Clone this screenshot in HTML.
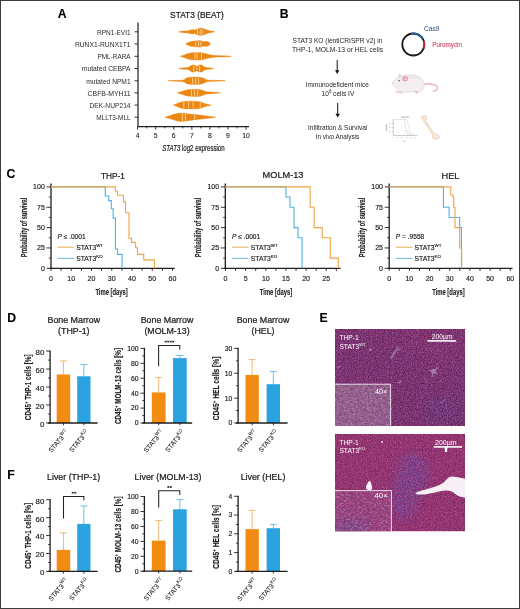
<!DOCTYPE html>
<html><head><meta charset="utf-8"><style>
html,body{margin:0;padding:0;background:#fff;} body{position:relative;width:520px;height:609px;overflow:hidden;}
svg{display:block;filter:blur(0.3px);font-family:"Liberation Sans", sans-serif;}
</style></head><body>
<svg width="520" height="609" viewBox="0 0 520 609" font-family="Liberation Sans, sans-serif">
<rect x="0" y="0" width="520" height="609" fill="#fff"/>
<text x="57.70" y="17.80" font-size="12.2" fill="#000" text-anchor="start" font-weight="bold" stroke="#000" stroke-width="0.12">A</text>
<text x="197.00" y="18.10" font-size="9" fill="#1c1c1c" text-anchor="middle" textLength="53.8" lengthAdjust="spacingAndGlyphs" stroke="#1c1c1c" stroke-width="0.24">STAT3 (BEAT)</text>
<text x="97.10" y="34.50" font-size="7.6" fill="#2a2a2a" text-anchor="start" textLength="33.5" lengthAdjust="spacingAndGlyphs" stroke="none">RPN1-EVI1</text>
<line x1="134.50" y1="31.80" x2="138.00" y2="31.80" stroke="#1e1e1e" stroke-width="0.9"/>
<text x="74.90" y="46.60" font-size="7.6" fill="#2a2a2a" text-anchor="start" textLength="55.7" lengthAdjust="spacingAndGlyphs" stroke="none">RUNX1-RUNX1T1</text>
<line x1="134.50" y1="43.90" x2="138.00" y2="43.90" stroke="#1e1e1e" stroke-width="0.9"/>
<text x="97.50" y="59.00" font-size="7.6" fill="#2a2a2a" text-anchor="start" textLength="33.1" lengthAdjust="spacingAndGlyphs" stroke="none">PML-RARA</text>
<line x1="134.50" y1="56.30" x2="138.00" y2="56.30" stroke="#1e1e1e" stroke-width="0.9"/>
<text x="81.80" y="71.20" font-size="7.6" fill="#2a2a2a" text-anchor="start" textLength="48.8" lengthAdjust="spacingAndGlyphs" stroke="none">mutated CEBPA</text>
<line x1="134.50" y1="68.50" x2="138.00" y2="68.50" stroke="#1e1e1e" stroke-width="0.9"/>
<text x="86.30" y="83.50" font-size="7.6" fill="#2a2a2a" text-anchor="start" textLength="44.3" lengthAdjust="spacingAndGlyphs" stroke="none">mutated NPM1</text>
<line x1="134.50" y1="80.80" x2="138.00" y2="80.80" stroke="#1e1e1e" stroke-width="0.9"/>
<text x="87.60" y="95.60" font-size="7.6" fill="#2a2a2a" text-anchor="start" textLength="43" lengthAdjust="spacingAndGlyphs" stroke="none">CBFB-MYH11</text>
<line x1="134.50" y1="92.90" x2="138.00" y2="92.90" stroke="#1e1e1e" stroke-width="0.9"/>
<text x="89.40" y="107.80" font-size="7.6" fill="#2a2a2a" text-anchor="start" textLength="41.2" lengthAdjust="spacingAndGlyphs" stroke="none">DEK-NUP214</text>
<line x1="134.50" y1="105.10" x2="138.00" y2="105.10" stroke="#1e1e1e" stroke-width="0.9"/>
<text x="96.20" y="119.90" font-size="7.6" fill="#2a2a2a" text-anchor="start" textLength="34.4" lengthAdjust="spacingAndGlyphs" stroke="none">MLLT3-MLL</text>
<line x1="134.50" y1="117.20" x2="138.00" y2="117.20" stroke="#1e1e1e" stroke-width="0.9"/>
<line x1="138.00" y1="22.50" x2="138.00" y2="127.00" stroke="#1e1e1e" stroke-width="1.2"/>
<line x1="137.40" y1="126.60" x2="249.00" y2="126.60" stroke="#1e1e1e" stroke-width="1.2"/>
<line x1="137.60" y1="126.60" x2="137.60" y2="129.60" stroke="#1e1e1e" stroke-width="0.9"/>
<line x1="146.64" y1="126.60" x2="146.64" y2="128.40" stroke="#1e1e1e" stroke-width="0.9"/>
<line x1="155.68" y1="126.60" x2="155.68" y2="129.60" stroke="#1e1e1e" stroke-width="0.9"/>
<line x1="164.72" y1="126.60" x2="164.72" y2="128.40" stroke="#1e1e1e" stroke-width="0.9"/>
<line x1="173.76" y1="126.60" x2="173.76" y2="129.60" stroke="#1e1e1e" stroke-width="0.9"/>
<line x1="182.80" y1="126.60" x2="182.80" y2="128.40" stroke="#1e1e1e" stroke-width="0.9"/>
<line x1="191.84" y1="126.60" x2="191.84" y2="129.60" stroke="#1e1e1e" stroke-width="0.9"/>
<line x1="200.88" y1="126.60" x2="200.88" y2="128.40" stroke="#1e1e1e" stroke-width="0.9"/>
<line x1="209.92" y1="126.60" x2="209.92" y2="129.60" stroke="#1e1e1e" stroke-width="0.9"/>
<line x1="218.96" y1="126.60" x2="218.96" y2="128.40" stroke="#1e1e1e" stroke-width="0.9"/>
<line x1="228.00" y1="126.60" x2="228.00" y2="129.60" stroke="#1e1e1e" stroke-width="0.9"/>
<line x1="237.04" y1="126.60" x2="237.04" y2="128.40" stroke="#1e1e1e" stroke-width="0.9"/>
<line x1="246.08" y1="126.60" x2="246.08" y2="129.60" stroke="#1e1e1e" stroke-width="0.9"/>
<text x="137.60" y="138.20" font-size="6.8" fill="#1c1c1c" text-anchor="middle" stroke="#1c1c1c" stroke-width="0.1">4</text>
<text x="155.68" y="138.20" font-size="6.8" fill="#1c1c1c" text-anchor="middle" stroke="#1c1c1c" stroke-width="0.1">5</text>
<text x="173.76" y="138.20" font-size="6.8" fill="#1c1c1c" text-anchor="middle" stroke="#1c1c1c" stroke-width="0.1">6</text>
<text x="191.84" y="138.20" font-size="6.8" fill="#1c1c1c" text-anchor="middle" stroke="#1c1c1c" stroke-width="0.1">7</text>
<text x="209.92" y="138.20" font-size="6.8" fill="#1c1c1c" text-anchor="middle" stroke="#1c1c1c" stroke-width="0.1">8</text>
<text x="228.00" y="138.20" font-size="6.8" fill="#1c1c1c" text-anchor="middle" stroke="#1c1c1c" stroke-width="0.1">9</text>
<text x="246.08" y="138.20" font-size="6.8" fill="#1c1c1c" text-anchor="middle" stroke="#1c1c1c" stroke-width="0.1">10</text>
<text x="162.3" y="151.2" font-size="8.2" fill="#1c1c1c" stroke="#1c1c1c" stroke-width="0.2" textLength="62.3" lengthAdjust="spacingAndGlyphs"><tspan font-style="italic">STAT3</tspan> log2 expression</text>
<polygon points="179.20,31.40 183.00,30.90 188.00,30.70 190.50,29.90 192.30,29.50 194.50,30.00 196.00,29.40 198.50,28.50 201.00,28.10 203.50,28.50 206.00,29.60 209.00,30.60 213.00,31.30 214.50,31.60 214.50,32.00 213.00,32.30 209.00,33.00 206.00,34.00 203.50,35.10 201.00,35.50 198.50,35.10 196.00,34.20 194.50,33.60 192.30,34.10 190.50,33.70 188.00,32.90 183.00,32.70 179.20,32.20" fill="#eb8713" stroke="#eb8713" stroke-width="0.3" stroke-linejoin="round"/>
<line x1="197.50" y1="29.36" x2="197.50" y2="34.24" stroke="#fdd49a" stroke-width="0.9"/>
<line x1="200.20" y1="28.73" x2="200.20" y2="34.87" stroke="#fdd49a" stroke-width="0.9"/>
<line x1="202.20" y1="28.79" x2="202.20" y2="34.81" stroke="#fdd49a" stroke-width="0.9"/>
<polygon points="186.00,43.50 188.00,42.50 191.00,41.50 194.00,41.00 197.00,40.80 200.00,40.60 202.00,41.10 203.80,41.80 205.50,41.30 207.50,41.50 209.00,42.30 210.30,43.50 210.30,44.30 209.00,45.50 207.50,46.30 205.50,46.50 203.80,46.00 202.00,46.70 200.00,47.20 197.00,47.00 194.00,46.80 191.00,46.30 188.00,45.30 186.00,44.30" fill="#eb8713" stroke="#eb8713" stroke-width="0.3" stroke-linejoin="round"/>
<line x1="195.70" y1="41.39" x2="195.70" y2="46.41" stroke="#fdd49a" stroke-width="0.9"/>
<line x1="198.50" y1="41.20" x2="198.50" y2="46.60" stroke="#fdd49a" stroke-width="0.9"/>
<line x1="200.80" y1="41.30" x2="200.80" y2="46.50" stroke="#fdd49a" stroke-width="0.9"/>
<polygon points="180.60,56.00 184.00,55.00 187.00,53.80 190.00,53.10 194.00,52.60 199.00,52.50 202.00,52.70 205.00,53.50 209.00,54.50 213.00,55.20 217.00,55.50 224.00,55.70 231.00,56.10 231.00,56.50 224.00,56.90 217.00,57.10 213.00,57.40 209.00,58.10 205.00,59.10 202.00,59.90 199.00,60.10 194.00,60.00 190.00,59.50 187.00,58.80 184.00,57.60 180.60,56.60" fill="#eb8713" stroke="#eb8713" stroke-width="0.3" stroke-linejoin="round"/>
<line x1="195.00" y1="53.08" x2="195.00" y2="59.52" stroke="#fdd49a" stroke-width="0.9"/>
<line x1="197.20" y1="53.04" x2="197.20" y2="59.56" stroke="#fdd49a" stroke-width="0.9"/>
<line x1="201.50" y1="53.17" x2="201.50" y2="59.43" stroke="#fdd49a" stroke-width="0.9"/>
<polygon points="179.00,68.20 183.00,67.80 187.00,67.50 189.00,67.00 190.50,65.80 192.00,65.00 193.80,64.80 195.50,65.40 196.90,66.30 198.30,65.40 200.00,64.80 201.80,65.00 203.30,65.90 204.80,67.00 207.00,67.50 210.00,67.80 213.30,68.30 213.30,68.70 210.00,69.20 207.00,69.50 204.80,70.00 203.30,71.10 201.80,72.00 200.00,72.20 198.30,71.60 196.90,70.70 195.50,71.60 193.80,72.20 192.00,72.00 190.50,71.20 189.00,70.00 187.00,69.50 183.00,69.20 179.00,68.80" fill="#eb8713" stroke="#eb8713" stroke-width="0.3" stroke-linejoin="round"/>
<line x1="193.80" y1="65.30" x2="193.80" y2="71.70" stroke="#fdd49a" stroke-width="0.9"/>
<line x1="196.90" y1="66.80" x2="196.90" y2="70.20" stroke="#fdd49a" stroke-width="0.9"/>
<line x1="199.60" y1="65.44" x2="199.60" y2="71.56" stroke="#fdd49a" stroke-width="0.9"/>
<polygon points="168.30,80.50 175.00,80.30 182.00,80.20 184.50,79.40 186.20,78.10 188.50,77.40 192.00,77.10 198.00,77.10 202.00,77.50 204.50,78.60 206.50,79.80 210.00,80.20 218.00,80.30 225.00,80.60 225.00,81.00 218.00,81.30 210.00,81.40 206.50,81.80 204.50,83.00 202.00,84.10 198.00,84.50 192.00,84.50 188.50,84.20 186.20,83.50 184.50,82.20 182.00,81.40 175.00,81.30 168.30,81.10" fill="#eb8713" stroke="#eb8713" stroke-width="0.3" stroke-linejoin="round"/>
<line x1="192.60" y1="77.60" x2="192.60" y2="84.00" stroke="#fdd49a" stroke-width="0.9"/>
<line x1="195.70" y1="77.60" x2="195.70" y2="84.00" stroke="#fdd49a" stroke-width="0.9"/>
<line x1="198.50" y1="77.65" x2="198.50" y2="83.95" stroke="#fdd49a" stroke-width="0.9"/>
<polygon points="177.50,92.60 180.00,92.00 183.00,91.00 186.00,90.10 189.00,89.60 194.00,89.20 199.00,89.30 202.00,90.10 205.00,91.20 208.00,91.80 212.00,92.00 216.00,92.20 220.50,92.70 220.50,93.10 216.00,93.60 212.00,93.80 208.00,94.00 205.00,94.60 202.00,95.70 199.00,96.50 194.00,96.60 189.00,96.20 186.00,95.70 183.00,94.80 180.00,93.80 177.50,93.20" fill="#eb8713" stroke="#eb8713" stroke-width="0.3" stroke-linejoin="round"/>
<line x1="191.50" y1="89.90" x2="191.50" y2="95.90" stroke="#fdd49a" stroke-width="0.9"/>
<line x1="194.60" y1="89.71" x2="194.60" y2="96.09" stroke="#fdd49a" stroke-width="0.9"/>
<line x1="197.70" y1="89.77" x2="197.70" y2="96.03" stroke="#fdd49a" stroke-width="0.9"/>
<polygon points="173.60,104.80 176.00,104.10 179.00,102.70 182.00,101.70 186.00,101.30 192.00,101.20 198.00,101.40 201.00,102.00 204.00,103.20 207.00,104.10 209.00,104.50 211.00,104.90 211.00,105.30 209.00,105.70 207.00,106.10 204.00,107.00 201.00,108.20 198.00,108.80 192.00,109.00 186.00,108.90 182.00,108.50 179.00,107.50 176.00,106.10 173.60,105.40" fill="#eb8713" stroke="#eb8713" stroke-width="0.3" stroke-linejoin="round"/>
<line x1="183.80" y1="102.02" x2="183.80" y2="108.18" stroke="#fdd49a" stroke-width="0.9"/>
<line x1="188.60" y1="101.76" x2="188.60" y2="108.44" stroke="#fdd49a" stroke-width="0.9"/>
<line x1="193.20" y1="101.74" x2="193.20" y2="108.46" stroke="#fdd49a" stroke-width="0.9"/>
<line x1="200.20" y1="102.34" x2="200.20" y2="107.86" stroke="#fdd49a" stroke-width="0.9"/>
<polygon points="165.20,116.90 168.00,116.20 171.00,115.30 174.00,114.30 177.00,113.40 180.00,112.90 184.00,113.20 190.00,113.90 196.00,114.60 202.00,115.30 207.00,116.00 211.00,116.50 215.50,117.00 215.50,117.40 211.00,117.90 207.00,118.40 202.00,119.10 196.00,119.80 190.00,120.50 184.00,121.20 180.00,121.50 177.00,121.00 174.00,120.10 171.00,119.10 168.00,118.20 165.20,117.50" fill="#eb8713" stroke="#eb8713" stroke-width="0.3" stroke-linejoin="round"/>
<line x1="182.30" y1="113.57" x2="182.30" y2="120.83" stroke="#fdd49a" stroke-width="0.9"/>
<line x1="185.40" y1="113.86" x2="185.40" y2="120.54" stroke="#fdd49a" stroke-width="0.9"/>
<line x1="194.60" y1="114.94" x2="194.60" y2="119.46" stroke="#fdd49a" stroke-width="0.9"/>
<text x="279.70" y="18.00" font-size="12.2" fill="#000" text-anchor="start" font-weight="bold" stroke="#000" stroke-width="0.12">B</text>
<text x="337.50" y="42.90" font-size="7.1" fill="#262626" text-anchor="middle" textLength="90" lengthAdjust="spacingAndGlyphs" stroke="none">STAT3 KO (lentiCRISPR v2) in</text>
<text x="337.50" y="51.90" font-size="7.1" fill="#262626" text-anchor="middle" textLength="91" lengthAdjust="spacingAndGlyphs" stroke="none">THP-1, MOLM-13 or HEL cells</text>
<line x1="337.20" y1="60.00" x2="337.20" y2="71.50" stroke="#111" stroke-width="1"/>
<polygon points="335.00,70.20 339.40,70.20 337.20,74.00" fill="#111"/>
<text x="337.30" y="86.90" font-size="7.1" fill="#262626" text-anchor="middle" textLength="63" lengthAdjust="spacingAndGlyphs" stroke="none">Immunodeficient mice</text>
<text x="321.6" y="95.5" stroke="none" font-size="6.9" textLength="32.7" lengthAdjust="spacingAndGlyphs" fill="#1c1c1c">10<tspan font-size="4.5" dy="-2.6">6</tspan><tspan dy="2.6"> cells IV</tspan></text>
<line x1="337.70" y1="103.00" x2="337.70" y2="115.00" stroke="#111" stroke-width="1"/>
<polygon points="335.50,113.70 339.90,113.70 337.70,117.50" fill="#111"/>
<text x="337.60" y="130.10" font-size="7.1" fill="#262626" text-anchor="middle" textLength="59.2" lengthAdjust="spacingAndGlyphs" stroke="none">Infiltration &amp; Survival</text>
<text x="337.50" y="139.40" font-size="7.1" fill="#262626" text-anchor="middle" textLength="43.4" lengthAdjust="spacingAndGlyphs" stroke="none">In vivo Analysis</text>
<circle cx="413.3" cy="44.5" r="11.0" fill="none" stroke="#1d1d1d" stroke-width="1.8"/>
<path d="M410.83,33.78 A11.0,11.0 0 0 1 422.83,39.00" fill="none" stroke="#24649a" stroke-width="2.0"/>
<path d="M423.76,41.10 A11.0,11.0 0 0 1 423.57,48.44" fill="none" stroke="#cc2448" stroke-width="2.0"/>
<text x="424.00" y="31.00" font-size="7.6" fill="#41668f" text-anchor="start" textLength="15.5" lengthAdjust="spacingAndGlyphs" stroke="#41668f" stroke-width="0.1">Cas9</text>
<text x="432.20" y="46.50" font-size="7.6" fill="#cc3d5c" text-anchor="start" textLength="29.8" lengthAdjust="spacingAndGlyphs" stroke="#cc3d5c" stroke-width="0.1">Puromycin</text>
<g>
<path d="M423.3,84.3 C427,83.6 432,84 435.5,85.2 C437.6,86 438,88 436.8,89.6 C435.8,90.7 434.4,91.2 433,91.2" fill="none" stroke="#dfa3ad" stroke-width="1.15" stroke-linecap="round"/>
<path d="M392.6,83 C393.5,81 395.5,79 397.5,77.5 C398.5,75.5 399.3,74.2 400,74 C400.6,75 401,76 401.5,76.5 C404,75 408,74.5 412,74.8 C418,75 423,78.5 424,83.5 C424.8,88 422.5,91.5 418,92 L403,92 C399.5,92 397,90 395.5,87.5 C394,86 393,84.8 392.6,83 Z" fill="#f3eff1" stroke="#d9cfd4" stroke-width="0.6"/>
<path d="M407,76 C412,75 419,76.5 422,80 C417,78.5 412,78 407,78.5 Z" fill="#e6e4ee" opacity="0.8"/>
<path d="M399.2,77.8 L399.6,73.8 L401.2,76.6 Z" fill="#e4dde1" stroke="#cfc5ca" stroke-width="0.4"/>
<ellipse cx="405.2" cy="78.7" rx="2.9" ry="2.6" fill="#e6a1ae"/>
<ellipse cx="405.6" cy="79" rx="1.6" ry="1.4" fill="#efc3cb"/>
<circle cx="399.1" cy="80.8" r="0.75" fill="#4d4148"/>
<path d="M396,91.8 L398.5,92.6 M399.5,92 L402,93.2" stroke="#e5aab4" stroke-width="1" stroke-linecap="round"/>
<path d="M415.5,91.2 L417.5,93" stroke="#e5aab4" stroke-width="1.2" stroke-linecap="round"/>
<circle cx="392.8" cy="83" r="0.6" fill="#e5aab4"/>
</g>
<g fill="none">
<line x1="393.2" y1="119.2" x2="393.2" y2="135.5" stroke="#a8a8a8" stroke-width="0.6"/>
<line x1="393.2" y1="135.5" x2="417.4" y2="135.5" stroke="#a8a8a8" stroke-width="0.6"/>
<path d="M393.2,119.4 H404.2 L407.1,134 H411" stroke="#c8c8c8" stroke-width="0.5"/>
<path d="M404,119.4 H407 L410.5,134 H414" stroke="#cfcfcf" stroke-width="0.5"/>
<path d="M394,131.5 H410" stroke="#e2e2e2" stroke-width="0.4"/>
<g stroke="#999" stroke-width="0.4">
<line x1="392" y1="123.4" x2="393.2" y2="123.4"/><line x1="392" y1="127.5" x2="393.2" y2="127.5"/><line x1="392" y1="131.5" x2="393.2" y2="131.5"/>
</g>
<rect x="401.3" y="116.5" width="7.7" height="1.3" fill="#c4c4c4"/>
<rect x="385.8" y="124" width="1.2" height="7" fill="#c4c4c4"/>
<g fill="#cdcdcd"><rect x="389" y="123" width="1.6" height="0.9"/><rect x="389" y="127.1" width="1.6" height="0.9"/><rect x="389" y="131.1" width="1.6" height="0.9"/>
<rect x="391.5" y="137.3" width="1" height="0.9"/><rect x="396.3" y="137.3" width="1.6" height="0.9"/><rect x="401.2" y="137.3" width="1.6" height="0.9"/><rect x="406.1" y="137.3" width="1.6" height="0.9"/><rect x="410.7" y="137.3" width="1.6" height="0.9"/><rect x="414.8" y="137.3" width="1.6" height="0.9"/>
<rect x="403" y="140.5" width="2.4" height="1.1"/></g>
</g>
<path d="M421.9,118 C421.6,116.6 422.6,115.7 424.2,115.6 C425.6,115.5 426.8,116 426.6,117.4 C426.4,118.5 425.6,119.6 425.4,120.8 L433.2,132 C434.8,133.4 437.4,134.4 439.2,135.9 C439.9,137.2 438.6,138.6 436.8,139 C435,139.4 433.2,139.4 432.7,138.1 C432.5,136.6 432.9,135.2 432.4,134 L424.3,122 C423.3,120.7 422.2,119.3 421.9,118 Z" fill="#f6ead8" stroke="#dcb992" stroke-width="0.55"/>
<text x="6.60" y="178.40" font-size="12.2" fill="#000" text-anchor="start" font-weight="bold" stroke="#000" stroke-width="0.12">C</text>
<text x="112.90" y="178.80" font-size="9.2" fill="#1c1c1c" text-anchor="middle" textLength="23.8" lengthAdjust="spacingAndGlyphs" stroke="#1c1c1c" stroke-width="0.24">THP-1</text>
<line x1="51.00" y1="183.50" x2="51.00" y2="268.90" stroke="#1e1e1e" stroke-width="1.3"/>
<line x1="49.50" y1="268.30" x2="174.80" y2="268.30" stroke="#1e1e1e" stroke-width="1.3"/>
<line x1="46.50" y1="268.30" x2="51.00" y2="268.30" stroke="#1e1e1e" stroke-width="0.9"/>
<text x="44.80" y="270.80" font-size="7" fill="#1c1c1c" text-anchor="end" stroke="#1c1c1c" stroke-width="0.16">0</text>
<line x1="46.50" y1="247.95" x2="51.00" y2="247.95" stroke="#1e1e1e" stroke-width="0.9"/>
<text x="44.80" y="250.45" font-size="7" fill="#1c1c1c" text-anchor="end" stroke="#1c1c1c" stroke-width="0.16">25</text>
<line x1="46.50" y1="227.60" x2="51.00" y2="227.60" stroke="#1e1e1e" stroke-width="0.9"/>
<text x="44.80" y="230.10" font-size="7" fill="#1c1c1c" text-anchor="end" stroke="#1c1c1c" stroke-width="0.16">50</text>
<line x1="46.50" y1="207.25" x2="51.00" y2="207.25" stroke="#1e1e1e" stroke-width="0.9"/>
<text x="44.80" y="209.75" font-size="7" fill="#1c1c1c" text-anchor="end" stroke="#1c1c1c" stroke-width="0.16">75</text>
<line x1="46.50" y1="186.90" x2="51.00" y2="186.90" stroke="#1e1e1e" stroke-width="0.9"/>
<text x="44.80" y="189.40" font-size="7" fill="#1c1c1c" text-anchor="end" stroke="#1c1c1c" stroke-width="0.16">100</text>
<line x1="48.80" y1="258.12" x2="51.00" y2="258.12" stroke="#1e1e1e" stroke-width="0.8"/>
<line x1="48.80" y1="237.78" x2="51.00" y2="237.78" stroke="#1e1e1e" stroke-width="0.8"/>
<line x1="48.80" y1="217.43" x2="51.00" y2="217.43" stroke="#1e1e1e" stroke-width="0.8"/>
<line x1="48.80" y1="197.07" x2="51.00" y2="197.07" stroke="#1e1e1e" stroke-width="0.8"/>
<line x1="51.00" y1="268.30" x2="51.00" y2="270.90" stroke="#1e1e1e" stroke-width="0.9"/>
<line x1="61.12" y1="268.30" x2="61.12" y2="270.90" stroke="#1e1e1e" stroke-width="0.9"/>
<line x1="71.25" y1="268.30" x2="71.25" y2="270.90" stroke="#1e1e1e" stroke-width="0.9"/>
<line x1="81.38" y1="268.30" x2="81.38" y2="270.90" stroke="#1e1e1e" stroke-width="0.9"/>
<line x1="91.50" y1="268.30" x2="91.50" y2="270.90" stroke="#1e1e1e" stroke-width="0.9"/>
<line x1="101.62" y1="268.30" x2="101.62" y2="270.90" stroke="#1e1e1e" stroke-width="0.9"/>
<line x1="111.75" y1="268.30" x2="111.75" y2="270.90" stroke="#1e1e1e" stroke-width="0.9"/>
<line x1="121.88" y1="268.30" x2="121.88" y2="270.90" stroke="#1e1e1e" stroke-width="0.9"/>
<line x1="132.00" y1="268.30" x2="132.00" y2="270.90" stroke="#1e1e1e" stroke-width="0.9"/>
<line x1="142.12" y1="268.30" x2="142.12" y2="270.90" stroke="#1e1e1e" stroke-width="0.9"/>
<line x1="152.25" y1="268.30" x2="152.25" y2="270.90" stroke="#1e1e1e" stroke-width="0.9"/>
<line x1="162.38" y1="268.30" x2="162.38" y2="270.90" stroke="#1e1e1e" stroke-width="0.9"/>
<line x1="172.50" y1="268.30" x2="172.50" y2="270.90" stroke="#1e1e1e" stroke-width="0.9"/>
<text x="51.00" y="281.20" font-size="7" fill="#1c1c1c" text-anchor="middle" stroke="#1c1c1c" stroke-width="0.16">0</text>
<text x="71.25" y="281.20" font-size="7" fill="#1c1c1c" text-anchor="middle" stroke="#1c1c1c" stroke-width="0.16">10</text>
<text x="91.50" y="281.20" font-size="7" fill="#1c1c1c" text-anchor="middle" stroke="#1c1c1c" stroke-width="0.16">20</text>
<text x="111.75" y="281.20" font-size="7" fill="#1c1c1c" text-anchor="middle" stroke="#1c1c1c" stroke-width="0.16">30</text>
<text x="132.00" y="281.20" font-size="7" fill="#1c1c1c" text-anchor="middle" stroke="#1c1c1c" stroke-width="0.16">40</text>
<text x="152.25" y="281.20" font-size="7" fill="#1c1c1c" text-anchor="middle" stroke="#1c1c1c" stroke-width="0.16">50</text>
<text x="172.50" y="281.20" font-size="7" fill="#1c1c1c" text-anchor="middle" stroke="#1c1c1c" stroke-width="0.16">60</text>
<text x="111.60" y="294.80" font-size="9.0" fill="#222" text-anchor="middle" font-weight="bold" textLength="32.4" lengthAdjust="spacingAndGlyphs" stroke="#222" stroke-width="0.12">Time [days]</text>
<text x="26.90" y="227.40" font-size="8.6" fill="#222" text-anchor="middle" font-weight="bold" textLength="59.5" lengthAdjust="spacingAndGlyphs" transform="rotate(-90 26.90 227.40)" stroke="#222" stroke-width="0.12">Probability of survival</text>
<path d="M51.00,186.90 H105.27 V196.02 H108.71 V200.58 H111.34 V208.72 H113.17 V218.08 H115.39 V249.01 H117.42 V254.38 H122.08 V268.30" fill="none" stroke="#4fb3e3" stroke-width="1.1"/>
<path d="M51.00,186.90 H115.39 V191.21 H117.42 V195.20 H123.49 V201.88 H125.52 V212.70 H128.96 V238.26 H131.59 V242.33 H135.64 V247.71 H137.47 V254.38 H143.75 V259.83 H154.48 V268.30" fill="none" stroke="#f1a443" stroke-width="1.1"/>
<text x="57.40" y="238.8" font-size="6.6" fill="#1c1c1c" stroke="#1c1c1c" stroke-width="0.16"><tspan font-style="italic">P</tspan> ≤ .0001</text>
<line x1="57.40" y1="247.20" x2="73.90" y2="247.20" stroke="#e2ad55" stroke-width="1.0"/>
<line x1="57.40" y1="258.40" x2="73.90" y2="258.40" stroke="#6db6dc" stroke-width="1.0"/>
<text x="76.20" y="249.6" font-size="6.75" fill="#1c1c1c" stroke="#1c1c1c" stroke-width="0.16">STAT3<tspan font-size="4.4" dy="-3.1">WT</tspan></text>
<text x="76.20" y="260.8" font-size="6.75" fill="#1c1c1c" stroke="#1c1c1c" stroke-width="0.16">STAT3<tspan font-size="4.4" dy="-3.1">KO</tspan></text>
<text x="283.00" y="178.30" font-size="9.2" fill="#1c1c1c" text-anchor="middle" stroke="#1c1c1c" stroke-width="0.24">MOLM-13</text>
<line x1="225.30" y1="183.50" x2="225.30" y2="268.90" stroke="#1e1e1e" stroke-width="1.3"/>
<line x1="223.80" y1="268.30" x2="340.50" y2="268.30" stroke="#1e1e1e" stroke-width="1.3"/>
<line x1="220.80" y1="268.30" x2="225.30" y2="268.30" stroke="#1e1e1e" stroke-width="0.9"/>
<text x="219.10" y="270.80" font-size="7" fill="#1c1c1c" text-anchor="end" stroke="#1c1c1c" stroke-width="0.16">0</text>
<line x1="220.80" y1="247.95" x2="225.30" y2="247.95" stroke="#1e1e1e" stroke-width="0.9"/>
<text x="219.10" y="250.45" font-size="7" fill="#1c1c1c" text-anchor="end" stroke="#1c1c1c" stroke-width="0.16">25</text>
<line x1="220.80" y1="227.60" x2="225.30" y2="227.60" stroke="#1e1e1e" stroke-width="0.9"/>
<text x="219.10" y="230.10" font-size="7" fill="#1c1c1c" text-anchor="end" stroke="#1c1c1c" stroke-width="0.16">50</text>
<line x1="220.80" y1="207.25" x2="225.30" y2="207.25" stroke="#1e1e1e" stroke-width="0.9"/>
<text x="219.10" y="209.75" font-size="7" fill="#1c1c1c" text-anchor="end" stroke="#1c1c1c" stroke-width="0.16">75</text>
<line x1="220.80" y1="186.90" x2="225.30" y2="186.90" stroke="#1e1e1e" stroke-width="0.9"/>
<text x="219.10" y="189.40" font-size="7" fill="#1c1c1c" text-anchor="end" stroke="#1c1c1c" stroke-width="0.16">100</text>
<line x1="223.10" y1="258.12" x2="225.30" y2="258.12" stroke="#1e1e1e" stroke-width="0.8"/>
<line x1="223.10" y1="237.78" x2="225.30" y2="237.78" stroke="#1e1e1e" stroke-width="0.8"/>
<line x1="223.10" y1="217.43" x2="225.30" y2="217.43" stroke="#1e1e1e" stroke-width="0.8"/>
<line x1="223.10" y1="197.07" x2="225.30" y2="197.07" stroke="#1e1e1e" stroke-width="0.8"/>
<line x1="225.50" y1="268.30" x2="225.50" y2="270.90" stroke="#1e1e1e" stroke-width="0.9"/>
<line x1="235.57" y1="268.30" x2="235.57" y2="270.90" stroke="#1e1e1e" stroke-width="0.9"/>
<line x1="245.65" y1="268.30" x2="245.65" y2="270.90" stroke="#1e1e1e" stroke-width="0.9"/>
<line x1="255.72" y1="268.30" x2="255.72" y2="270.90" stroke="#1e1e1e" stroke-width="0.9"/>
<line x1="265.80" y1="268.30" x2="265.80" y2="270.90" stroke="#1e1e1e" stroke-width="0.9"/>
<line x1="275.88" y1="268.30" x2="275.88" y2="270.90" stroke="#1e1e1e" stroke-width="0.9"/>
<line x1="285.95" y1="268.30" x2="285.95" y2="270.90" stroke="#1e1e1e" stroke-width="0.9"/>
<line x1="296.02" y1="268.30" x2="296.02" y2="270.90" stroke="#1e1e1e" stroke-width="0.9"/>
<line x1="306.10" y1="268.30" x2="306.10" y2="270.90" stroke="#1e1e1e" stroke-width="0.9"/>
<line x1="316.18" y1="268.30" x2="316.18" y2="270.90" stroke="#1e1e1e" stroke-width="0.9"/>
<line x1="326.25" y1="268.30" x2="326.25" y2="270.90" stroke="#1e1e1e" stroke-width="0.9"/>
<line x1="336.32" y1="268.30" x2="336.32" y2="270.90" stroke="#1e1e1e" stroke-width="0.9"/>
<text x="225.50" y="281.20" font-size="7" fill="#1c1c1c" text-anchor="middle" stroke="#1c1c1c" stroke-width="0.16">0</text>
<text x="245.65" y="281.20" font-size="7" fill="#1c1c1c" text-anchor="middle" stroke="#1c1c1c" stroke-width="0.16">5</text>
<text x="265.80" y="281.20" font-size="7" fill="#1c1c1c" text-anchor="middle" stroke="#1c1c1c" stroke-width="0.16">10</text>
<text x="285.95" y="281.20" font-size="7" fill="#1c1c1c" text-anchor="middle" stroke="#1c1c1c" stroke-width="0.16">15</text>
<text x="306.10" y="281.20" font-size="7" fill="#1c1c1c" text-anchor="middle" stroke="#1c1c1c" stroke-width="0.16">20</text>
<text x="326.25" y="281.20" font-size="7" fill="#1c1c1c" text-anchor="middle" stroke="#1c1c1c" stroke-width="0.16">25</text>
<text x="276.00" y="294.80" font-size="9.0" fill="#222" text-anchor="middle" font-weight="bold" textLength="32.4" lengthAdjust="spacingAndGlyphs" stroke="#222" stroke-width="0.12">Time [days]</text>
<text x="201.10" y="227.40" font-size="8.6" fill="#222" text-anchor="middle" font-weight="bold" textLength="59.5" lengthAdjust="spacingAndGlyphs" transform="rotate(-90 201.10 227.40)" stroke="#222" stroke-width="0.12">Probability of survival</text>
<path d="M225.30,186.90 H285.95 V197.07 H289.98 V207.25 H294.01 V227.60 H298.04 V237.78 H302.07 V268.30" fill="none" stroke="#4fb3e3" stroke-width="1.1"/>
<path d="M225.30,186.90 H310.13 V207.25 H314.16 V227.60 H322.22 V237.78 H330.28 V258.12 H338.34 V268.30" fill="none" stroke="#f1a443" stroke-width="1.1"/>
<text x="232.00" y="238.8" font-size="6.6" fill="#1c1c1c" stroke="#1c1c1c" stroke-width="0.16"><tspan font-style="italic">P</tspan> ≤ .0001</text>
<line x1="232.00" y1="247.20" x2="248.50" y2="247.20" stroke="#e2ad55" stroke-width="1.0"/>
<line x1="232.00" y1="258.40" x2="248.50" y2="258.40" stroke="#6db6dc" stroke-width="1.0"/>
<text x="250.80" y="249.6" font-size="6.75" fill="#1c1c1c" stroke="#1c1c1c" stroke-width="0.16">STAT3<tspan font-size="4.4" dy="-3.1">WT</tspan></text>
<text x="250.80" y="260.8" font-size="6.75" fill="#1c1c1c" stroke="#1c1c1c" stroke-width="0.16">STAT3<tspan font-size="4.4" dy="-3.1">KO</tspan></text>
<text x="450.50" y="178.80" font-size="9.2" fill="#1c1c1c" text-anchor="middle" stroke="#1c1c1c" stroke-width="0.24">HEL</text>
<line x1="389.20" y1="183.50" x2="389.20" y2="268.90" stroke="#1e1e1e" stroke-width="1.3"/>
<line x1="387.70" y1="268.30" x2="512.50" y2="268.30" stroke="#1e1e1e" stroke-width="1.3"/>
<line x1="384.70" y1="268.30" x2="389.20" y2="268.30" stroke="#1e1e1e" stroke-width="0.9"/>
<text x="383.00" y="270.80" font-size="7" fill="#1c1c1c" text-anchor="end" stroke="#1c1c1c" stroke-width="0.16">0</text>
<line x1="384.70" y1="247.95" x2="389.20" y2="247.95" stroke="#1e1e1e" stroke-width="0.9"/>
<text x="383.00" y="250.45" font-size="7" fill="#1c1c1c" text-anchor="end" stroke="#1c1c1c" stroke-width="0.16">25</text>
<line x1="384.70" y1="227.60" x2="389.20" y2="227.60" stroke="#1e1e1e" stroke-width="0.9"/>
<text x="383.00" y="230.10" font-size="7" fill="#1c1c1c" text-anchor="end" stroke="#1c1c1c" stroke-width="0.16">50</text>
<line x1="384.70" y1="207.25" x2="389.20" y2="207.25" stroke="#1e1e1e" stroke-width="0.9"/>
<text x="383.00" y="209.75" font-size="7" fill="#1c1c1c" text-anchor="end" stroke="#1c1c1c" stroke-width="0.16">75</text>
<line x1="384.70" y1="186.90" x2="389.20" y2="186.90" stroke="#1e1e1e" stroke-width="0.9"/>
<text x="383.00" y="189.40" font-size="7" fill="#1c1c1c" text-anchor="end" stroke="#1c1c1c" stroke-width="0.16">100</text>
<line x1="387.00" y1="258.12" x2="389.20" y2="258.12" stroke="#1e1e1e" stroke-width="0.8"/>
<line x1="387.00" y1="237.78" x2="389.20" y2="237.78" stroke="#1e1e1e" stroke-width="0.8"/>
<line x1="387.00" y1="217.43" x2="389.20" y2="217.43" stroke="#1e1e1e" stroke-width="0.8"/>
<line x1="387.00" y1="197.07" x2="389.20" y2="197.07" stroke="#1e1e1e" stroke-width="0.8"/>
<line x1="389.20" y1="268.30" x2="389.20" y2="270.90" stroke="#1e1e1e" stroke-width="0.9"/>
<line x1="399.29" y1="268.30" x2="399.29" y2="270.90" stroke="#1e1e1e" stroke-width="0.9"/>
<line x1="409.38" y1="268.30" x2="409.38" y2="270.90" stroke="#1e1e1e" stroke-width="0.9"/>
<line x1="419.47" y1="268.30" x2="419.47" y2="270.90" stroke="#1e1e1e" stroke-width="0.9"/>
<line x1="429.56" y1="268.30" x2="429.56" y2="270.90" stroke="#1e1e1e" stroke-width="0.9"/>
<line x1="439.65" y1="268.30" x2="439.65" y2="270.90" stroke="#1e1e1e" stroke-width="0.9"/>
<line x1="449.74" y1="268.30" x2="449.74" y2="270.90" stroke="#1e1e1e" stroke-width="0.9"/>
<line x1="459.83" y1="268.30" x2="459.83" y2="270.90" stroke="#1e1e1e" stroke-width="0.9"/>
<line x1="469.92" y1="268.30" x2="469.92" y2="270.90" stroke="#1e1e1e" stroke-width="0.9"/>
<line x1="480.01" y1="268.30" x2="480.01" y2="270.90" stroke="#1e1e1e" stroke-width="0.9"/>
<line x1="490.10" y1="268.30" x2="490.10" y2="270.90" stroke="#1e1e1e" stroke-width="0.9"/>
<line x1="500.19" y1="268.30" x2="500.19" y2="270.90" stroke="#1e1e1e" stroke-width="0.9"/>
<line x1="510.28" y1="268.30" x2="510.28" y2="270.90" stroke="#1e1e1e" stroke-width="0.9"/>
<text x="389.20" y="281.20" font-size="7" fill="#1c1c1c" text-anchor="middle" stroke="#1c1c1c" stroke-width="0.16">0</text>
<text x="409.38" y="281.20" font-size="7" fill="#1c1c1c" text-anchor="middle" stroke="#1c1c1c" stroke-width="0.16">10</text>
<text x="429.56" y="281.20" font-size="7" fill="#1c1c1c" text-anchor="middle" stroke="#1c1c1c" stroke-width="0.16">20</text>
<text x="449.74" y="281.20" font-size="7" fill="#1c1c1c" text-anchor="middle" stroke="#1c1c1c" stroke-width="0.16">30</text>
<text x="469.92" y="281.20" font-size="7" fill="#1c1c1c" text-anchor="middle" stroke="#1c1c1c" stroke-width="0.16">40</text>
<text x="490.10" y="281.20" font-size="7" fill="#1c1c1c" text-anchor="middle" stroke="#1c1c1c" stroke-width="0.16">50</text>
<text x="510.28" y="281.20" font-size="7" fill="#1c1c1c" text-anchor="middle" stroke="#1c1c1c" stroke-width="0.16">60</text>
<text x="448.40" y="294.80" font-size="9.0" fill="#222" text-anchor="middle" font-weight="bold" textLength="32.4" lengthAdjust="spacingAndGlyphs" stroke="#222" stroke-width="0.12">Time [days]</text>
<text x="365.20" y="227.40" font-size="8.6" fill="#222" text-anchor="middle" font-weight="bold" textLength="59.5" lengthAdjust="spacingAndGlyphs" transform="rotate(-90 365.20 227.40)" stroke="#222" stroke-width="0.12">Probability of survival</text>
<path d="M389.20,186.90 H443.48 V207.25 H449.13 V217.43 H459.63 V227.60 H461.44 V268.30" fill="none" stroke="#4fb3e3" stroke-width="1.1"/>
<path d="M389.20,186.90 H450.75 V195.04 H452.97 V197.07 H453.78 V207.25 H454.99 V227.60 H459.63 V247.95 H461.65 V268.30" fill="none" stroke="#f1a443" stroke-width="1.1"/>
<text x="395.80" y="238.8" font-size="6.6" fill="#1c1c1c" stroke="#1c1c1c" stroke-width="0.16"><tspan font-style="italic">P</tspan> = .9558</text>
<line x1="395.80" y1="247.20" x2="412.30" y2="247.20" stroke="#e2ad55" stroke-width="1.0"/>
<line x1="395.80" y1="258.40" x2="412.30" y2="258.40" stroke="#6db6dc" stroke-width="1.0"/>
<text x="414.60" y="249.6" font-size="6.75" fill="#1c1c1c" stroke="#1c1c1c" stroke-width="0.16">STAT3<tspan font-size="4.4" dy="-3.1">WT</tspan></text>
<text x="414.60" y="260.8" font-size="6.75" fill="#1c1c1c" stroke="#1c1c1c" stroke-width="0.16">STAT3<tspan font-size="4.4" dy="-3.1">KO</tspan></text>
<text x="7.20" y="322.00" font-size="12.2" fill="#000" text-anchor="start" font-weight="bold" stroke="#000" stroke-width="0.12">D</text>
<text x="7.20" y="478.70" font-size="12.2" fill="#000" text-anchor="start" font-weight="bold" stroke="#000" stroke-width="0.12">F</text>
<text x="73.80" y="323.30" font-size="8.85" fill="#1c1c1c" text-anchor="middle" stroke="#1c1c1c" stroke-width="0.24">Bone Marrow</text>
<text x="73.80" y="333.90" font-size="8.85" fill="#1c1c1c" text-anchor="middle" stroke="#1c1c1c" stroke-width="0.24">(THP-1)</text>
<line x1="63.45" y1="374.45" x2="63.45" y2="360.97" stroke="#f4b060" stroke-width="0.9"/>
<line x1="60.05" y1="360.97" x2="66.85" y2="360.97" stroke="#f4b060" stroke-width="0.9"/>
<rect x="56.70" y="374.45" width="13.50" height="48.55" fill="#f28b12"/>
<line x1="83.85" y1="376.25" x2="83.85" y2="364.56" stroke="#5ab8e6" stroke-width="0.9"/>
<line x1="80.45" y1="364.56" x2="87.25" y2="364.56" stroke="#5ab8e6" stroke-width="0.9"/>
<rect x="77.20" y="376.25" width="13.30" height="46.75" fill="#2ba3e0"/>
<line x1="50.10" y1="350.48" x2="50.10" y2="423.60" stroke="#1e1e1e" stroke-width="1.3"/>
<line x1="48.10" y1="423.00" x2="97.60" y2="423.00" stroke="#1e1e1e" stroke-width="1.3"/>
<line x1="46.10" y1="423.00" x2="50.10" y2="423.00" stroke="#1e1e1e" stroke-width="0.9"/>
<text x="44.30" y="426.90" font-size="7.9" fill="#1c1c1c" text-anchor="end" stroke="#1c1c1c" stroke-width="0.16">0</text>
<line x1="46.10" y1="405.02" x2="50.10" y2="405.02" stroke="#1e1e1e" stroke-width="0.9"/>
<text x="44.30" y="408.92" font-size="7.9" fill="#1c1c1c" text-anchor="end" stroke="#1c1c1c" stroke-width="0.16">20</text>
<line x1="46.10" y1="387.04" x2="50.10" y2="387.04" stroke="#1e1e1e" stroke-width="0.9"/>
<text x="44.30" y="390.94" font-size="7.9" fill="#1c1c1c" text-anchor="end" stroke="#1c1c1c" stroke-width="0.16">40</text>
<line x1="46.10" y1="369.06" x2="50.10" y2="369.06" stroke="#1e1e1e" stroke-width="0.9"/>
<text x="44.30" y="372.96" font-size="7.9" fill="#1c1c1c" text-anchor="end" stroke="#1c1c1c" stroke-width="0.16">60</text>
<line x1="46.10" y1="351.08" x2="50.10" y2="351.08" stroke="#1e1e1e" stroke-width="0.9"/>
<text x="44.30" y="354.98" font-size="7.9" fill="#1c1c1c" text-anchor="end" stroke="#1c1c1c" stroke-width="0.16">80</text>
<line x1="47.90" y1="414.01" x2="50.10" y2="414.01" stroke="#1e1e1e" stroke-width="0.8"/>
<line x1="47.90" y1="396.03" x2="50.10" y2="396.03" stroke="#1e1e1e" stroke-width="0.8"/>
<line x1="47.90" y1="378.05" x2="50.10" y2="378.05" stroke="#1e1e1e" stroke-width="0.8"/>
<line x1="47.90" y1="360.07" x2="50.10" y2="360.07" stroke="#1e1e1e" stroke-width="0.8"/>
<line x1="63.45" y1="423.00" x2="63.45" y2="425.20" stroke="#1e1e1e" stroke-width="0.9"/>
<text x="68.85" y="432.40" font-size="6.6" fill="#262626" stroke="#262626" stroke-width="0.06" text-anchor="end" transform="rotate(-50 68.85 432.40)">STAT3<tspan font-size="4.6" dy="-3.1" dx="0.3">WT</tspan></text>
<line x1="83.85" y1="423.00" x2="83.85" y2="425.20" stroke="#1e1e1e" stroke-width="0.9"/>
<text x="89.25" y="432.40" font-size="6.6" fill="#262626" stroke="#262626" stroke-width="0.06" text-anchor="end" transform="rotate(-50 89.25 432.40)">STAT3<tspan font-size="4.6" dy="-3.1" dx="0.3">KO</tspan></text>
<text x="31.00" y="387.30" font-size="8.2" font-weight="bold" fill="#1c1c1c" text-anchor="middle" transform="rotate(-90 31.00 387.30)" textLength="65.7" lengthAdjust="spacingAndGlyphs" stroke="#1c1c1c" stroke-width="0.12">CD45<tspan font-size="5.5" dy="-3">+</tspan><tspan dy="3"> THP-1 cells [%]</tspan></text>
<text x="167.00" y="323.30" font-size="8.85" fill="#1c1c1c" text-anchor="middle" stroke="#1c1c1c" stroke-width="0.24">Bone Marrow</text>
<text x="167.00" y="334.10" font-size="8.85" fill="#1c1c1c" text-anchor="middle" stroke="#1c1c1c" stroke-width="0.24">(MOLM-13)</text>
<line x1="158.70" y1="392.41" x2="158.70" y2="377.49" stroke="#f4b060" stroke-width="0.9"/>
<line x1="155.30" y1="377.49" x2="162.10" y2="377.49" stroke="#f4b060" stroke-width="0.9"/>
<rect x="151.80" y="392.41" width="13.80" height="30.59" fill="#f28b12"/>
<line x1="179.85" y1="358.10" x2="179.85" y2="355.49" stroke="#5ab8e6" stroke-width="0.9"/>
<line x1="176.45" y1="355.49" x2="183.25" y2="355.49" stroke="#5ab8e6" stroke-width="0.9"/>
<rect x="173.00" y="358.10" width="13.70" height="64.90" fill="#2ba3e0"/>
<line x1="144.40" y1="347.80" x2="144.40" y2="423.60" stroke="#1e1e1e" stroke-width="1.3"/>
<line x1="142.40" y1="423.00" x2="192.20" y2="423.00" stroke="#1e1e1e" stroke-width="1.3"/>
<line x1="140.40" y1="423.00" x2="144.40" y2="423.00" stroke="#1e1e1e" stroke-width="0.9"/>
<text x="138.60" y="425.40" font-size="6.8" fill="#1c1c1c" text-anchor="end" stroke="#1c1c1c" stroke-width="0.16">0</text>
<line x1="140.40" y1="408.08" x2="144.40" y2="408.08" stroke="#1e1e1e" stroke-width="0.9"/>
<text x="138.60" y="410.48" font-size="6.8" fill="#1c1c1c" text-anchor="end" stroke="#1c1c1c" stroke-width="0.16">20</text>
<line x1="140.40" y1="393.16" x2="144.40" y2="393.16" stroke="#1e1e1e" stroke-width="0.9"/>
<text x="138.60" y="395.56" font-size="6.8" fill="#1c1c1c" text-anchor="end" stroke="#1c1c1c" stroke-width="0.16">40</text>
<line x1="140.40" y1="378.24" x2="144.40" y2="378.24" stroke="#1e1e1e" stroke-width="0.9"/>
<text x="138.60" y="380.64" font-size="6.8" fill="#1c1c1c" text-anchor="end" stroke="#1c1c1c" stroke-width="0.16">60</text>
<line x1="140.40" y1="363.32" x2="144.40" y2="363.32" stroke="#1e1e1e" stroke-width="0.9"/>
<text x="138.60" y="365.72" font-size="6.8" fill="#1c1c1c" text-anchor="end" stroke="#1c1c1c" stroke-width="0.16">80</text>
<line x1="140.40" y1="348.40" x2="144.40" y2="348.40" stroke="#1e1e1e" stroke-width="0.9"/>
<text x="138.60" y="350.80" font-size="6.8" fill="#1c1c1c" text-anchor="end" stroke="#1c1c1c" stroke-width="0.16">100</text>
<line x1="142.20" y1="415.54" x2="144.40" y2="415.54" stroke="#1e1e1e" stroke-width="0.8"/>
<line x1="142.20" y1="400.62" x2="144.40" y2="400.62" stroke="#1e1e1e" stroke-width="0.8"/>
<line x1="142.20" y1="385.70" x2="144.40" y2="385.70" stroke="#1e1e1e" stroke-width="0.8"/>
<line x1="142.20" y1="370.78" x2="144.40" y2="370.78" stroke="#1e1e1e" stroke-width="0.8"/>
<line x1="142.20" y1="355.86" x2="144.40" y2="355.86" stroke="#1e1e1e" stroke-width="0.8"/>
<line x1="158.70" y1="423.00" x2="158.70" y2="425.20" stroke="#1e1e1e" stroke-width="0.9"/>
<text x="164.10" y="432.40" font-size="6.6" fill="#262626" stroke="#262626" stroke-width="0.06" text-anchor="end" transform="rotate(-50 164.10 432.40)">STAT3<tspan font-size="4.6" dy="-3.1" dx="0.3">WT</tspan></text>
<line x1="179.85" y1="423.00" x2="179.85" y2="425.20" stroke="#1e1e1e" stroke-width="0.9"/>
<text x="185.25" y="432.40" font-size="6.6" fill="#262626" stroke="#262626" stroke-width="0.06" text-anchor="end" transform="rotate(-50 185.25 432.40)">STAT3<tspan font-size="4.6" dy="-3.1" dx="0.3">KO</tspan></text>
<text x="121.00" y="386.00" font-size="8.2" font-weight="bold" fill="#1c1c1c" text-anchor="middle" transform="rotate(-90 121.00 386.00)" textLength="76.0" lengthAdjust="spacingAndGlyphs" stroke="#1c1c1c" stroke-width="0.12">CD45<tspan font-size="5.5" dy="-3">+</tspan><tspan dy="3"> MOLM-13 cells [%]</tspan></text>
<path d="M158.60,366.30 V345.50 H179.80 V349.40" fill="none" stroke="#222" stroke-width="1.05"/>
<path d="M164.68,341.60 H166.68 M165.18,340.75 L166.18,342.45 M166.18,340.75 L165.18,342.45" stroke="#1a1a1a" stroke-width="0.75"/>
<path d="M167.22,341.60 H169.22 M167.72,340.75 L168.72,342.45 M168.72,340.75 L167.72,342.45" stroke="#1a1a1a" stroke-width="0.75"/>
<path d="M169.78,341.60 H171.78 M170.28,340.75 L171.28,342.45 M171.28,340.75 L170.28,342.45" stroke="#1a1a1a" stroke-width="0.75"/>
<path d="M172.32,341.60 H174.32 M172.82,340.75 L173.82,342.45 M173.82,340.75 L172.82,342.45" stroke="#1a1a1a" stroke-width="0.75"/>
<text x="263.00" y="323.30" font-size="8.85" fill="#1c1c1c" text-anchor="middle" stroke="#1c1c1c" stroke-width="0.24">Bone Marrow</text>
<text x="263.00" y="334.10" font-size="8.85" fill="#1c1c1c" text-anchor="middle" stroke="#1c1c1c" stroke-width="0.24">(HEL)</text>
<line x1="252.15" y1="375.00" x2="252.15" y2="359.58" stroke="#f4b060" stroke-width="0.9"/>
<line x1="248.75" y1="359.58" x2="255.55" y2="359.58" stroke="#f4b060" stroke-width="0.9"/>
<rect x="245.50" y="375.00" width="13.30" height="48.00" fill="#f28b12"/>
<line x1="273.30" y1="384.20" x2="273.30" y2="371.52" stroke="#5ab8e6" stroke-width="0.9"/>
<line x1="269.90" y1="371.52" x2="276.70" y2="371.52" stroke="#5ab8e6" stroke-width="0.9"/>
<rect x="266.60" y="384.20" width="13.40" height="38.80" fill="#2ba3e0"/>
<line x1="238.10" y1="347.79" x2="238.10" y2="423.60" stroke="#1e1e1e" stroke-width="1.3"/>
<line x1="236.10" y1="423.00" x2="287.60" y2="423.00" stroke="#1e1e1e" stroke-width="1.3"/>
<line x1="234.10" y1="423.00" x2="238.10" y2="423.00" stroke="#1e1e1e" stroke-width="0.9"/>
<text x="232.30" y="425.40" font-size="6.8" fill="#1c1c1c" text-anchor="end" stroke="#1c1c1c" stroke-width="0.16">0</text>
<line x1="234.10" y1="398.13" x2="238.10" y2="398.13" stroke="#1e1e1e" stroke-width="0.9"/>
<text x="232.30" y="400.53" font-size="6.8" fill="#1c1c1c" text-anchor="end" stroke="#1c1c1c" stroke-width="0.16">10</text>
<line x1="234.10" y1="373.26" x2="238.10" y2="373.26" stroke="#1e1e1e" stroke-width="0.9"/>
<text x="232.30" y="375.66" font-size="6.8" fill="#1c1c1c" text-anchor="end" stroke="#1c1c1c" stroke-width="0.16">10</text>
<line x1="234.10" y1="348.39" x2="238.10" y2="348.39" stroke="#1e1e1e" stroke-width="0.9"/>
<text x="232.30" y="350.79" font-size="6.8" fill="#1c1c1c" text-anchor="end" stroke="#1c1c1c" stroke-width="0.16">30</text>
<line x1="235.90" y1="410.56" x2="238.10" y2="410.56" stroke="#1e1e1e" stroke-width="0.8"/>
<line x1="235.90" y1="385.69" x2="238.10" y2="385.69" stroke="#1e1e1e" stroke-width="0.8"/>
<line x1="235.90" y1="360.82" x2="238.10" y2="360.82" stroke="#1e1e1e" stroke-width="0.8"/>
<line x1="252.15" y1="423.00" x2="252.15" y2="425.20" stroke="#1e1e1e" stroke-width="0.9"/>
<text x="257.55" y="432.40" font-size="6.6" fill="#262626" stroke="#262626" stroke-width="0.06" text-anchor="end" transform="rotate(-50 257.55 432.40)">STAT3<tspan font-size="4.6" dy="-3.1" dx="0.3">WT</tspan></text>
<line x1="273.30" y1="423.00" x2="273.30" y2="425.20" stroke="#1e1e1e" stroke-width="0.9"/>
<text x="278.70" y="432.40" font-size="6.6" fill="#262626" stroke="#262626" stroke-width="0.06" text-anchor="end" transform="rotate(-50 278.70 432.40)">STAT3<tspan font-size="4.6" dy="-3.1" dx="0.3">KO</tspan></text>
<text x="218.60" y="388.40" font-size="8.2" font-weight="bold" fill="#1c1c1c" text-anchor="middle" transform="rotate(-90 218.60 388.40)" textLength="63.8" lengthAdjust="spacingAndGlyphs" stroke="#1c1c1c" stroke-width="0.12">CD45<tspan font-size="5.5" dy="-3">+</tspan><tspan dy="3"> HEL cells [%]</tspan></text>
<text x="73.60" y="480.00" font-size="8.85" fill="#1c1c1c" text-anchor="middle" stroke="#1c1c1c" stroke-width="0.24">Liver (THP-1)</text>
<line x1="63.45" y1="549.90" x2="63.45" y2="532.87" stroke="#f4b060" stroke-width="0.9"/>
<line x1="60.05" y1="532.87" x2="66.85" y2="532.87" stroke="#f4b060" stroke-width="0.9"/>
<rect x="56.70" y="549.90" width="13.50" height="21.50" fill="#f28b12"/>
<line x1="83.85" y1="523.91" x2="83.85" y2="505.99" stroke="#5ab8e6" stroke-width="0.9"/>
<line x1="80.45" y1="505.99" x2="87.25" y2="505.99" stroke="#5ab8e6" stroke-width="0.9"/>
<rect x="77.20" y="523.91" width="13.30" height="47.49" fill="#2ba3e0"/>
<line x1="50.10" y1="499.12" x2="50.10" y2="572.00" stroke="#1e1e1e" stroke-width="1.3"/>
<line x1="48.10" y1="571.40" x2="97.60" y2="571.40" stroke="#1e1e1e" stroke-width="1.3"/>
<line x1="46.10" y1="571.40" x2="50.10" y2="571.40" stroke="#1e1e1e" stroke-width="0.9"/>
<text x="44.30" y="575.30" font-size="7.9" fill="#1c1c1c" text-anchor="end" stroke="#1c1c1c" stroke-width="0.16">0</text>
<line x1="46.10" y1="553.48" x2="50.10" y2="553.48" stroke="#1e1e1e" stroke-width="0.9"/>
<text x="44.30" y="557.38" font-size="7.9" fill="#1c1c1c" text-anchor="end" stroke="#1c1c1c" stroke-width="0.16">20</text>
<line x1="46.10" y1="535.56" x2="50.10" y2="535.56" stroke="#1e1e1e" stroke-width="0.9"/>
<text x="44.30" y="539.46" font-size="7.9" fill="#1c1c1c" text-anchor="end" stroke="#1c1c1c" stroke-width="0.16">40</text>
<line x1="46.10" y1="517.64" x2="50.10" y2="517.64" stroke="#1e1e1e" stroke-width="0.9"/>
<text x="44.30" y="521.54" font-size="7.9" fill="#1c1c1c" text-anchor="end" stroke="#1c1c1c" stroke-width="0.16">60</text>
<line x1="46.10" y1="499.72" x2="50.10" y2="499.72" stroke="#1e1e1e" stroke-width="0.9"/>
<text x="44.30" y="503.62" font-size="7.9" fill="#1c1c1c" text-anchor="end" stroke="#1c1c1c" stroke-width="0.16">80</text>
<line x1="47.90" y1="562.44" x2="50.10" y2="562.44" stroke="#1e1e1e" stroke-width="0.8"/>
<line x1="47.90" y1="544.52" x2="50.10" y2="544.52" stroke="#1e1e1e" stroke-width="0.8"/>
<line x1="47.90" y1="526.60" x2="50.10" y2="526.60" stroke="#1e1e1e" stroke-width="0.8"/>
<line x1="47.90" y1="508.68" x2="50.10" y2="508.68" stroke="#1e1e1e" stroke-width="0.8"/>
<line x1="63.45" y1="571.40" x2="63.45" y2="573.60" stroke="#1e1e1e" stroke-width="0.9"/>
<text x="68.85" y="580.80" font-size="6.6" fill="#262626" stroke="#262626" stroke-width="0.06" text-anchor="end" transform="rotate(-50 68.85 580.80)">STAT3<tspan font-size="4.6" dy="-3.1" dx="0.3">WT</tspan></text>
<line x1="83.85" y1="571.40" x2="83.85" y2="573.60" stroke="#1e1e1e" stroke-width="0.9"/>
<text x="89.25" y="580.80" font-size="6.6" fill="#262626" stroke="#262626" stroke-width="0.06" text-anchor="end" transform="rotate(-50 89.25 580.80)">STAT3<tspan font-size="4.6" dy="-3.1" dx="0.3">KO</tspan></text>
<text x="31.00" y="535.80" font-size="8.2" font-weight="bold" fill="#1c1c1c" text-anchor="middle" transform="rotate(-90 31.00 535.80)" textLength="65.7" lengthAdjust="spacingAndGlyphs" stroke="#1c1c1c" stroke-width="0.12">CD45<tspan font-size="5.5" dy="-3">+</tspan><tspan dy="3"> THP-1 cells [%]</tspan></text>
<path d="M63.50,518.50 V496.50 H83.90 V500.20" fill="none" stroke="#222" stroke-width="1.05"/>
<path d="M71.72,492.70 H73.72 M72.22,491.85 L73.22,493.55 M73.22,491.85 L72.22,493.55" stroke="#1a1a1a" stroke-width="0.75"/>
<path d="M74.28,492.70 H76.28 M74.78,491.85 L75.78,493.55 M75.78,491.85 L74.78,493.55" stroke="#1a1a1a" stroke-width="0.75"/>
<text x="168.00" y="480.00" font-size="8.85" fill="#1c1c1c" text-anchor="middle" stroke="#1c1c1c" stroke-width="0.24">Liver (MOLM-13)</text>
<line x1="158.70" y1="540.61" x2="158.70" y2="520.47" stroke="#f4b060" stroke-width="0.9"/>
<line x1="155.30" y1="520.47" x2="162.10" y2="520.47" stroke="#f4b060" stroke-width="0.9"/>
<rect x="151.80" y="540.61" width="13.80" height="30.59" fill="#f28b12"/>
<line x1="179.85" y1="509.28" x2="179.85" y2="499.58" stroke="#5ab8e6" stroke-width="0.9"/>
<line x1="176.45" y1="499.58" x2="183.25" y2="499.58" stroke="#5ab8e6" stroke-width="0.9"/>
<rect x="173.00" y="509.28" width="13.70" height="61.92" fill="#2ba3e0"/>
<line x1="144.40" y1="496.00" x2="144.40" y2="571.80" stroke="#1e1e1e" stroke-width="1.3"/>
<line x1="142.40" y1="571.20" x2="192.20" y2="571.20" stroke="#1e1e1e" stroke-width="1.3"/>
<line x1="140.40" y1="571.20" x2="144.40" y2="571.20" stroke="#1e1e1e" stroke-width="0.9"/>
<text x="138.60" y="573.60" font-size="6.8" fill="#1c1c1c" text-anchor="end" stroke="#1c1c1c" stroke-width="0.16">0</text>
<line x1="140.40" y1="556.28" x2="144.40" y2="556.28" stroke="#1e1e1e" stroke-width="0.9"/>
<text x="138.60" y="558.68" font-size="6.8" fill="#1c1c1c" text-anchor="end" stroke="#1c1c1c" stroke-width="0.16">20</text>
<line x1="140.40" y1="541.36" x2="144.40" y2="541.36" stroke="#1e1e1e" stroke-width="0.9"/>
<text x="138.60" y="543.76" font-size="6.8" fill="#1c1c1c" text-anchor="end" stroke="#1c1c1c" stroke-width="0.16">40</text>
<line x1="140.40" y1="526.44" x2="144.40" y2="526.44" stroke="#1e1e1e" stroke-width="0.9"/>
<text x="138.60" y="528.84" font-size="6.8" fill="#1c1c1c" text-anchor="end" stroke="#1c1c1c" stroke-width="0.16">60</text>
<line x1="140.40" y1="511.52" x2="144.40" y2="511.52" stroke="#1e1e1e" stroke-width="0.9"/>
<text x="138.60" y="513.92" font-size="6.8" fill="#1c1c1c" text-anchor="end" stroke="#1c1c1c" stroke-width="0.16">80</text>
<line x1="140.40" y1="496.60" x2="144.40" y2="496.60" stroke="#1e1e1e" stroke-width="0.9"/>
<text x="138.60" y="499.00" font-size="6.8" fill="#1c1c1c" text-anchor="end" stroke="#1c1c1c" stroke-width="0.16">100</text>
<line x1="142.20" y1="563.74" x2="144.40" y2="563.74" stroke="#1e1e1e" stroke-width="0.8"/>
<line x1="142.20" y1="548.82" x2="144.40" y2="548.82" stroke="#1e1e1e" stroke-width="0.8"/>
<line x1="142.20" y1="533.90" x2="144.40" y2="533.90" stroke="#1e1e1e" stroke-width="0.8"/>
<line x1="142.20" y1="518.98" x2="144.40" y2="518.98" stroke="#1e1e1e" stroke-width="0.8"/>
<line x1="142.20" y1="504.06" x2="144.40" y2="504.06" stroke="#1e1e1e" stroke-width="0.8"/>
<line x1="158.70" y1="571.20" x2="158.70" y2="573.40" stroke="#1e1e1e" stroke-width="0.9"/>
<text x="164.10" y="580.60" font-size="6.6" fill="#262626" stroke="#262626" stroke-width="0.06" text-anchor="end" transform="rotate(-50 164.10 580.60)">STAT3<tspan font-size="4.6" dy="-3.1" dx="0.3">WT</tspan></text>
<line x1="179.85" y1="571.20" x2="179.85" y2="573.40" stroke="#1e1e1e" stroke-width="0.9"/>
<text x="185.25" y="580.60" font-size="6.6" fill="#262626" stroke="#262626" stroke-width="0.06" text-anchor="end" transform="rotate(-50 185.25 580.60)">STAT3<tspan font-size="4.6" dy="-3.1" dx="0.3">KO</tspan></text>
<text x="121.00" y="534.50" font-size="8.2" font-weight="bold" fill="#1c1c1c" text-anchor="middle" transform="rotate(-90 121.00 534.50)" textLength="76.0" lengthAdjust="spacingAndGlyphs" stroke="#1c1c1c" stroke-width="0.12">CD45<tspan font-size="5.5" dy="-3">+</tspan><tspan dy="3"> MOLM-13 cells [%]</tspan></text>
<path d="M158.70,507.60 V490.80 H179.80 V494.90" fill="none" stroke="#222" stroke-width="1.05"/>
<path d="M167.28,487.00 H169.28 M167.78,486.15 L168.78,487.85 M168.78,486.15 L167.78,487.85" stroke="#1a1a1a" stroke-width="0.75"/>
<path d="M169.83,487.00 H171.83 M170.33,486.15 L171.33,487.85 M171.33,486.15 L170.33,487.85" stroke="#1a1a1a" stroke-width="0.75"/>
<text x="263.00" y="480.00" font-size="8.85" fill="#1c1c1c" text-anchor="middle" stroke="#1c1c1c" stroke-width="0.24">Liver (HEL)</text>
<line x1="252.15" y1="529.14" x2="252.15" y2="510.36" stroke="#f4b060" stroke-width="0.9"/>
<line x1="248.75" y1="510.36" x2="255.55" y2="510.36" stroke="#f4b060" stroke-width="0.9"/>
<rect x="245.50" y="529.14" width="13.30" height="42.25" fill="#f28b12"/>
<line x1="273.30" y1="528.21" x2="273.30" y2="524.45" stroke="#5ab8e6" stroke-width="0.9"/>
<line x1="269.90" y1="524.45" x2="276.70" y2="524.45" stroke="#5ab8e6" stroke-width="0.9"/>
<rect x="266.60" y="528.21" width="13.40" height="43.19" fill="#2ba3e0"/>
<line x1="238.10" y1="495.68" x2="238.10" y2="572.00" stroke="#1e1e1e" stroke-width="1.3"/>
<line x1="236.10" y1="571.40" x2="287.60" y2="571.40" stroke="#1e1e1e" stroke-width="1.3"/>
<line x1="234.10" y1="571.40" x2="238.10" y2="571.40" stroke="#1e1e1e" stroke-width="0.9"/>
<text x="232.30" y="573.80" font-size="6.8" fill="#1c1c1c" text-anchor="end" stroke="#1c1c1c" stroke-width="0.16">0</text>
<line x1="234.10" y1="552.62" x2="238.10" y2="552.62" stroke="#1e1e1e" stroke-width="0.9"/>
<text x="232.30" y="555.02" font-size="6.8" fill="#1c1c1c" text-anchor="end" stroke="#1c1c1c" stroke-width="0.16">1</text>
<line x1="234.10" y1="533.84" x2="238.10" y2="533.84" stroke="#1e1e1e" stroke-width="0.9"/>
<text x="232.30" y="536.24" font-size="6.8" fill="#1c1c1c" text-anchor="end" stroke="#1c1c1c" stroke-width="0.16">2</text>
<line x1="234.10" y1="515.06" x2="238.10" y2="515.06" stroke="#1e1e1e" stroke-width="0.9"/>
<text x="232.30" y="517.46" font-size="6.8" fill="#1c1c1c" text-anchor="end" stroke="#1c1c1c" stroke-width="0.16">3</text>
<line x1="234.10" y1="496.28" x2="238.10" y2="496.28" stroke="#1e1e1e" stroke-width="0.9"/>
<text x="232.30" y="498.68" font-size="6.8" fill="#1c1c1c" text-anchor="end" stroke="#1c1c1c" stroke-width="0.16">4</text>
<line x1="235.90" y1="562.01" x2="238.10" y2="562.01" stroke="#1e1e1e" stroke-width="0.8"/>
<line x1="235.90" y1="543.23" x2="238.10" y2="543.23" stroke="#1e1e1e" stroke-width="0.8"/>
<line x1="235.90" y1="524.45" x2="238.10" y2="524.45" stroke="#1e1e1e" stroke-width="0.8"/>
<line x1="235.90" y1="505.67" x2="238.10" y2="505.67" stroke="#1e1e1e" stroke-width="0.8"/>
<line x1="252.15" y1="571.40" x2="252.15" y2="573.60" stroke="#1e1e1e" stroke-width="0.9"/>
<text x="257.55" y="580.80" font-size="6.6" fill="#262626" stroke="#262626" stroke-width="0.06" text-anchor="end" transform="rotate(-50 257.55 580.80)">STAT3<tspan font-size="4.6" dy="-3.1" dx="0.3">WT</tspan></text>
<line x1="273.30" y1="571.40" x2="273.30" y2="573.60" stroke="#1e1e1e" stroke-width="0.9"/>
<text x="278.70" y="580.80" font-size="6.6" fill="#262626" stroke="#262626" stroke-width="0.06" text-anchor="end" transform="rotate(-50 278.70 580.80)">STAT3<tspan font-size="4.6" dy="-3.1" dx="0.3">KO</tspan></text>
<text x="218.60" y="536.90" font-size="8.2" font-weight="bold" fill="#1c1c1c" text-anchor="middle" transform="rotate(-90 218.60 536.90)" textLength="63.8" lengthAdjust="spacingAndGlyphs" stroke="#1c1c1c" stroke-width="0.12">CD45<tspan font-size="5.5" dy="-3">+</tspan><tspan dy="3"> HEL cells [%]</tspan></text>
<text x="319.40" y="321.90" font-size="12.2" fill="#000" text-anchor="start" font-weight="bold" stroke="#000" stroke-width="0.12">E</text>
<defs>
<filter id="dk" x="0" y="0" width="1" height="1" color-interpolation-filters="sRGB">
 <feTurbulence type="fractalNoise" baseFrequency="0.85" numOctaves="2" seed="3"/>
 <feColorMatrix type="matrix" values="0 0 0 0 0.28  0 0 0 0 0.06  0 0 0 0 0.32  2.6 0 0 0 -1.15"/>
 <feComposite in2="SourceGraphic" operator="in"/>
</filter>
<filter id="lt" x="0" y="0" width="1" height="1" color-interpolation-filters="sRGB">
 <feTurbulence type="fractalNoise" baseFrequency="0.8" numOctaves="2" seed="11"/>
 <feColorMatrix type="matrix" values="0 0 0 0 0.88  0 0 0 0 0.58  0 0 0 0 0.86  0 2.6 0 0 -1.25"/>
 <feComposite in2="SourceGraphic" operator="in"/>
</filter>
<filter id="bl" x="0" y="0" width="1" height="1" color-interpolation-filters="sRGB">
 <feTurbulence type="fractalNoise" baseFrequency="0.8" numOctaves="2" seed="21"/>
 <feColorMatrix type="matrix" values="0 0 0 0 0.45  0 0 0 0 0.40  0 0 0 0 0.78  0 0 2.6 0 -1.0"/>
 <feComposite in2="SourceGraphic" operator="in"/>
</filter>
<filter id="dk2" x="0" y="0" width="1" height="1" color-interpolation-filters="sRGB">
 <feTurbulence type="fractalNoise" baseFrequency="0.57 0.43" numOctaves="3" seed="5"/>
 <feGaussianBlur stdDeviation="0.35"/>
 <feColorMatrix type="matrix" values="0 0 0 0 0.36  0 0 0 0 0.2  0 0 0 0 0.42  3.2 0 0 0 -1.45"/>
 <feComposite in2="SourceGraphic" operator="in"/>
</filter>
<filter id="lt2" x="0" y="0" width="1" height="1" color-interpolation-filters="sRGB">
 <feTurbulence type="fractalNoise" baseFrequency="0.43 0.58" numOctaves="3" seed="17"/>
 <feGaussianBlur stdDeviation="0.35"/>
 <feColorMatrix type="matrix" values="0 0 0 0 0.86  0 0 0 0 0.64  0 0 0 0 0.84  0 3.2 0 0 -1.5"/>
 <feComposite in2="SourceGraphic" operator="in"/>
</filter>
<filter id="blur4" x="-50%" y="-50%" width="200%" height="200%"><feGaussianBlur stdDeviation="4"/></filter>
<filter id="blur2" x="-50%" y="-50%" width="200%" height="200%"><feGaussianBlur stdDeviation="0.7"/></filter>
<clipPath id="c1"><rect x="335" y="329" width="130" height="97"/></clipPath>
<clipPath id="c2"><rect x="335" y="434" width="130" height="97.4"/></clipPath>
</defs>
<g clip-path="url(#c1)">
<rect x="335" y="329" width="130" height="97" fill="#7e3470"/>
<ellipse cx="435" cy="345" rx="30" ry="14" fill="#84366f" filter="url(#blur4)"/>
<ellipse cx="445" cy="410" rx="25" ry="16" fill="#733775" filter="url(#blur4)"/>
<rect x="335" y="329" width="130" height="97" fill="#fff" filter="url(#dk)" opacity="0.75"/>
<rect x="335" y="329" width="130" height="97" fill="#fff" filter="url(#lt)" opacity="0.45"/>
<circle cx="370.4" cy="349.8" r="1.3" fill="#b9a6cc" opacity="0.7" filter="url(#blur2)"/>
<g stroke="#b9a6cc" stroke-linecap="round" fill="none" opacity="0.55" filter="url(#blur2)">
<path d="M391.5,358 L393.5,354 L396.5,350" stroke-width="2"/>
<path d="M396.5,350 L398,346.5 M396.5,350 L400,349" stroke-width="1"/>
<path d="M433.5,371.5 L438,367.5 M433.5,371.5 L429,370 M433.5,371.5 L432,376.5 M433.5,371.5 L437,374" stroke-width="1.1"/>
<path d="M431.5,369.5 C433,368.5 435.5,369 436,371 C436.3,373 434.5,374.5 432.8,374 C431.2,373.4 430.6,370.8 431.5,369.5 Z" fill="#c5b6d6" stroke="none"/>
<path d="M338,367.5 L340,366" stroke-width="1.2"/>
<path d="M399,383 L401,381" stroke-width="1.2"/>
<path d="M440,403 L446,399" stroke-width="0.9"/>
<path d="M424,378 L428,383" stroke-width="0.8"/>
</g>
<rect x="335" y="384.2" width="55.6" height="41.8" fill="#95618a"/>
<rect x="335" y="384.2" width="55.6" height="41.8" fill="#fff" filter="url(#dk2)" opacity="0.6"/>
<rect x="335" y="384.2" width="55.6" height="41.8" fill="#fff" filter="url(#lt2)" opacity="0.42"/>
<path d="M335,384.2 H390.6 V426" fill="none" stroke="#f6eef6" stroke-width="0.9"/>
</g>
<g clip-path="url(#c2)">
<rect x="335" y="434" width="130" height="97.4" fill="#9a366f"/>
<mask id="m2"><path d="M412,452 C428,455 432,468 426,484 C420,498 418,515 406,521 C396,524 390,512 392,498 C394,485 396,470 400,460 C403,454 407,451 412,452 Z" fill="#fff" filter="url(#blur4)"/><ellipse cx="352" cy="522" rx="18" ry="10" fill="#aaa" filter="url(#blur4)"/></mask>
<g mask="url(#m2)"><rect x="335" y="434" width="130" height="97.4" fill="#6d4a92" opacity="0.3"/><rect x="335" y="434" width="130" height="97.4" fill="#fff" filter="url(#bl)" opacity="0.6"/></g>
<rect x="335" y="434" width="130" height="97.4" fill="#fff" filter="url(#dk)" opacity="0.6"/>
<rect x="335" y="434" width="130" height="97.4" fill="#fff" filter="url(#lt)" opacity="0.38"/>
<rect x="335" y="490.6" width="56.4" height="40.8" fill="#a2467f" opacity="0.7"/>
<ellipse cx="350" cy="528" rx="18" ry="8" fill="#6d4f98" opacity="0.45" filter="url(#blur4)"/>
<rect x="335" y="490.6" width="56.4" height="40.8" fill="#fff" filter="url(#dk2)" opacity="0.65"/>
<rect x="335" y="490.6" width="56.4" height="40.8" fill="#fff" filter="url(#lt2)" opacity="0.45"/>
<path d="M335,490.6 H391.4 V531.4" fill="none" stroke="#f6eef6" stroke-width="0.9"/>
<path d="M415.6,493.1 C418,491.5 421,490.5 423.8,490 C428,489 432,487.5 436.3,486.3 C440,485 443,483.5 445,481.3 C446.5,479.5 447.5,478 448.8,477.5 C450,476.8 451.5,476.4 452.5,476.5 C455,476.6 457,477.2 458.8,477.5 C461,477.8 463,478.5 465.5,478.8 L465.5,497.5 C463,497.2 461,496.8 458.8,496.3 C457,495.5 456,494.5 455,493.8 C453.5,492.5 452.5,491.7 451.3,491.3 C449.5,490.8 448,490.6 446.3,490.6 C444,490.6 442,491 440,491.3 C437,491.8 435,492.6 432.5,493.1 C430,493.6 427.5,494.2 425,494.4 C422.5,494.6 420,494.5 417.5,494.4 C416.5,494.3 415.8,493.8 415.6,493.1 Z" fill="#f9f0f7"/>
<path d="M366,488.8 C365.8,486.5 366.8,484 368.2,482.2 C368.9,481.4 369.6,480.9 370.3,481.2 C371.2,482.8 371.6,485 372,486.8 C372.3,488.2 372.2,489.3 371.3,489.8 C369.6,490.3 367.2,490.1 366,488.8 Z" fill="#f9f0f7"/>
<circle cx="382" cy="442" r="0.9" fill="#f3e6f1"/>
</g>
<text x="339.40" y="340.20" font-size="6.7" fill="#fff" text-anchor="start">THP-1</text>
<text x="339.4" y="348.50" font-size="6.7" fill="#fff">STAT3<tspan font-size="4.3" dy="-2.7">WT</tspan></text>
<text x="339.40" y="444.60" font-size="6.7" fill="#fff" text-anchor="start">THP-1</text>
<text x="339.4" y="452.90" font-size="6.7" fill="#fff">STAT3<tspan font-size="4.3" dy="-2.7">KO</tspan></text>
<text x="442.20" y="338.80" font-size="6.8" fill="#fff" text-anchor="middle" textLength="20.7" lengthAdjust="spacingAndGlyphs">200µm</text>
<line x1="427.50" y1="340.90" x2="456.00" y2="340.90" stroke="#fff" stroke-width="1.6"/>
<text x="445.80" y="444.60" font-size="6.8" fill="#fff" text-anchor="middle" textLength="21.5" lengthAdjust="spacingAndGlyphs">200µm</text>
<line x1="433.70" y1="446.90" x2="462.00" y2="446.90" stroke="#fff" stroke-width="1.6"/>
<path d="M444.5,447 L447.5,447 L447,452 L445,452 Z" fill="#fff"/>
<text x="381.20" y="393.90" font-size="6.5" fill="#fff" text-anchor="middle" textLength="12.2" lengthAdjust="spacingAndGlyphs">40×</text>
<text x="381.20" y="498.40" font-size="6.5" fill="#fff" text-anchor="middle" textLength="13.5" lengthAdjust="spacingAndGlyphs">40×</text>
</svg>
<div style="position:absolute;left:0;top:0;width:520px;height:1px;background:#3c3c3c"></div>
<div style="position:absolute;left:0;top:0;width:1.2px;height:609px;background:#3c3c3c"></div>
<div style="position:absolute;left:518.8px;top:0;width:1.2px;height:609px;background:#3c3c3c"></div>
<div style="position:absolute;left:0;top:607.7px;width:520px;height:1.3px;background:#3c3c3c"></div>
</body></html>
